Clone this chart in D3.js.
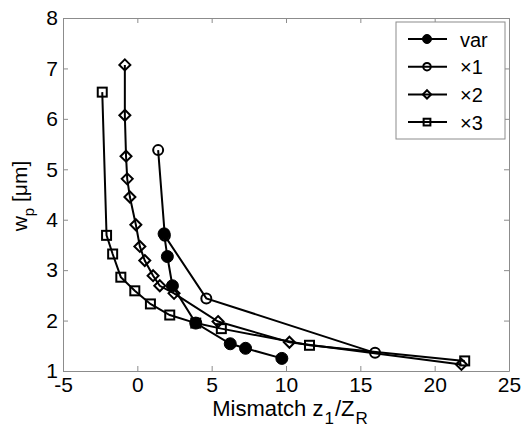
<!DOCTYPE html>
<html>
<head>
<meta charset="utf-8">
<script src="https://cdn.jsdelivr.net/npm/d3@7"></script>
<style>
  body { margin: 0; background: #fff; }
  svg { display: block; font-family: "Liberation Sans", Arial, sans-serif; }
</style>
</head>
<body>
<div id="chart"></div>
<script>
'use strict';

// values
const seriesNames = ['var', '\u00d71', '\u00d72', '\u00d73'];
const varX = [1.80, 2.02, 2.36, 3.93, 6.25, 7.28, 9.72];
const varY = [3.72, 3.27, 2.69, 1.95, 1.54, 1.45, 1.25];
const x1X = [1.40, 1.85, 4.64, 15.99];
const x1Y = [5.38, 3.68, 2.44, 1.36];
const x2X = [-0.84, -0.84, -0.76, -0.68, -0.50, -0.10, 0.17, 0.50, 1.06, 1.51, 2.47, 5.43, 10.23, 21.80];
const x2Y = [7.07, 6.07, 5.26, 4.81, 4.45, 3.90, 3.47, 3.19, 2.89, 2.69, 2.54, 1.98, 1.57, 1.13];
const x3X = [-2.36, -2.07, -1.66, -1.11, -0.17, 0.88, 2.18, 3.93, 5.65, 11.58, 22.02];
const x3Y = [6.53, 3.69, 3.32, 2.86, 2.59, 2.33, 2.11, 1.95, 1.84, 1.51, 1.20];
const xTicks = [-5, 0, 5, 10, 15, 20, 25];
const yTicks = [1, 2, 3, 4, 5, 6, 7, 8];

const width = 523, height = 427;
const margin = {top: 18, right: 14, bottom: 56, left: 63};
const innerW = width - margin.left - margin.right;
const innerH = height - margin.top - margin.bottom;
const fontSize = 21;

const x = d3.scaleLinear().domain([-5, 25]).range([0, innerW]);
const y = d3.scaleLinear().domain([1, 8]).range([innerH, 0]);

const svg = d3.select('#chart').append('svg')
  .attr('width', width)
  .attr('height', height);
svg.append('rect').attr('width', width).attr('height', height).attr('fill', '#fff');

const g = svg.append('g')
  .attr('transform', 'translate(' + margin.left + ',' + margin.top + ')');

const axisColor = '#8c8c8c';
const tick = 5;
const fmt = d => String(d);

function styleAxis(sel) {
  sel.selectAll('path,line').attr('stroke', axisColor).attr('stroke-width', 1);
  sel.selectAll('text').attr('fill', '#000').attr('font-size', fontSize)
     .attr('font-family', '"Liberation Sans", Arial, sans-serif');
}

// box axes, ticks pointing inward
g.append('g').attr('transform', 'translate(0,' + innerH + ')')
  .call(d3.axisBottom(x).tickValues(xTicks).tickFormat(fmt).tickSize(-tick).tickSizeOuter(0).tickPadding(6))
  .call(styleAxis);
g.append('g')
  .call(d3.axisTop(x).tickValues(xTicks).tickSize(-tick).tickSizeOuter(0).tickFormat(''))
  .call(styleAxis);
g.append('g')
  .call(d3.axisLeft(y).tickValues(yTicks).tickFormat(fmt).tickSize(-tick).tickSizeOuter(0).tickPadding(5))
  .call(styleAxis);
g.append('g').attr('transform', 'translate(' + innerW + ',0)')
  .call(d3.axisRight(y).tickValues(yTicks).tickSize(-tick).tickSizeOuter(0).tickFormat(''))
  .call(styleAxis);

// axis titles
const xt = svg.append('text')
  .attr('x', 290).attr('y', 416)
  .attr('text-anchor', 'middle')
  .attr('font-size', 22);
xt.append('tspan').text('Mismatch z');
xt.append('tspan').attr('dx', 1).attr('dy', 8).attr('font-size', 17).text('1');
xt.append('tspan').attr('dx', 1).attr('dy', -8).text('/Z');
xt.append('tspan').attr('dx', 1).attr('dy', 8).attr('font-size', 17).text('R');

const yt = svg.append('text')
  .attr('transform', 'translate(27,196) rotate(-90)')
  .attr('text-anchor', 'middle')
  .attr('font-size', fontSize);
yt.append('tspan').text('w');
yt.append('tspan').attr('dy', 7).attr('font-size', 15).text('p');
yt.append('tspan').attr('dy', -7).text(' [\u03bcm]');

// series
const series = [
  {name: seriesNames[0], xs: varX, ys: varY, marker: 'dot'},
  {name: seriesNames[1], xs: x1X, ys: x1Y, marker: 'circle'},
  {name: seriesNames[2], xs: x2X, ys: x2Y, marker: 'diamond'},
  {name: seriesNames[3], xs: x3X, ys: x3Y, marker: 'square'}
];

const line = d3.line().x(d => x(d[0])).y(d => y(d[1]));

function drawMarker(sel, type, s) {
  if (type === 'dot') {
    sel.append('circle').attr('r', 6 * s).attr('fill', '#000').attr('stroke', '#000');
  } else if (type === 'circle') {
    sel.append('circle').attr('r', 5 * s).attr('fill', 'none')
      .attr('stroke', '#000').attr('stroke-width', 2);
  } else if (type === 'diamond') {
    const a = 5.5 * s;
    sel.append('path').attr('d', 'M0,' + (-a) + 'L' + a + ',0L0,' + a + 'L' + (-a) + ',0Z')
      .attr('fill', 'none').attr('stroke', '#000').attr('stroke-width', 2);
  } else {
    const a = 4.5 * s;
    sel.append('rect').attr('x', -a).attr('y', -a).attr('width', 2 * a).attr('height', 2 * a)
      .attr('fill', 'none').attr('stroke', '#000').attr('stroke-width', 2);
  }
}

// draw var last so it sits on top
const order = [1, 2, 3, 0];
order.forEach(i => {
  const s = series[i];
  const pts = s.xs.map((v, j) => [v, s.ys[j]]);
  g.append('path').datum(pts)
    .attr('d', line)
    .attr('fill', 'none')
    .attr('stroke', '#000')
    .attr('stroke-width', 2);
  g.selectAll('.m' + i).data(pts).enter().append('g')
    .attr('class', 'm' + i)
    .attr('transform', d => 'translate(' + x(d[0]) + ',' + y(d[1]) + ')')
    .each(function() { drawMarker(d3.select(this), s.marker, 1); });
});

// legend
const leg = svg.append('g').attr('transform', 'translate(396,22)');
leg.append('rect').attr('width', 109).attr('height', 117)
  .attr('fill', '#fff').attr('stroke', axisColor).attr('stroke-width', 1);
series.forEach((s, i) => {
  const row = leg.append('g').attr('transform', 'translate(0,' + (17 + i * 27.7) + ')');
  row.append('line').attr('x1', 12).attr('x2', 51).attr('y1', 0).attr('y2', 0)
    .attr('stroke', '#000').attr('stroke-width', 2);
  const m = row.append('g').attr('transform', 'translate(31,0)');
  drawMarker(m, s.marker, 0.75);
  row.append('text').attr('x', 64).attr('y', 7.5).attr('font-size', 20).text(s.name);
});
</script>
</body>
</html>
